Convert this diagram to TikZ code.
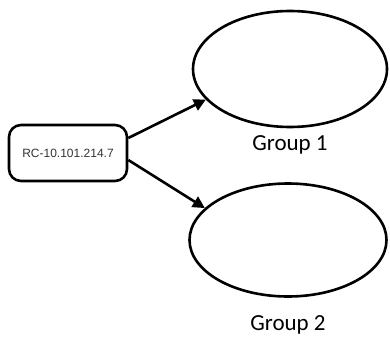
\documentclass[tikz,border=0pt]{standalone}
\usepackage{fontspec}
\setmainfont{Carlito}
\newfontfamily\boxfont{Liberation Sans}
\usetikzlibrary{positioning,arrows.meta,shapes.geometric}

\tikzset{
    rcbox/.style={draw, line width=2.6pt, rounded corners=12pt,
        minimum width=118pt, minimum height=56pt, inner sep=0pt,
        font=\boxfont\fontsize{12}{14}\selectfont, text=black!80},
    groupell/.style={draw, ellipse, line width=2.6pt, inner sep=0pt},
    grouplabel/.style={inner sep=0pt, font=\fontsize{23}{26}\selectfont},
    link/.style={line width=2.6pt, -{Triangle[length=12pt,width=12pt]}}
}

\begin{document}
\begin{tikzpicture}[x=1pt,y=-1pt]
\useasboundingbox (0,0) rectangle (390,337);

% source box
\node[rcbox] (rc) at (68,153) {RC-10.101.214.7};

% groups
\node[groupell, minimum width=194pt, minimum height=116pt] (grp1) at (290,69) {};
\node[groupell, minimum width=197pt, minimum height=113pt] (grp2) at (288,240) {};
\node[grouplabel, below=7pt of grp1] (lbl1) {Group 1};
\node[grouplabel, below=18pt of grp2] (lbl2) {Group 2};

% links
\draw[link] ([yshift=15pt]rc.east) -- (grp1.200);
\draw[link] ([yshift=-7pt]rc.east) -- (grp2.159);
\end{tikzpicture}
\end{document}
